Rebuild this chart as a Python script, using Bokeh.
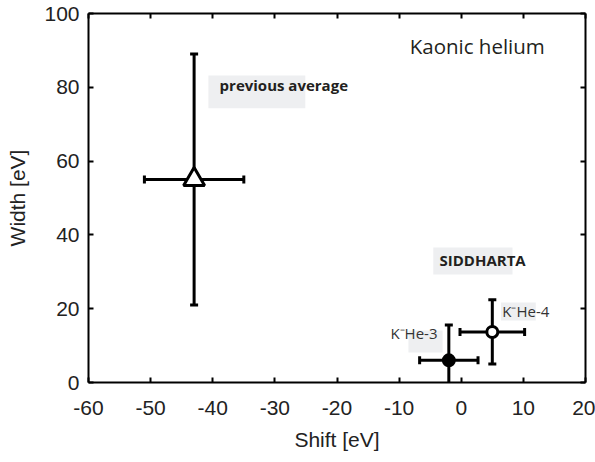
import numpy as np
from bokeh.plotting import figure
from bokeh.models import (ColumnDataSource, LinearAxis, FixedTicker, BoxAnnotation,
                          Label, Range1d)
from bokeh.embed import file_html
from bokeh.resources import INLINE

# ---------------- data ----------------
prev_shift = [-43.0]
prev_shift_err = [8.0]
prev_width = [55.0]
prev_width_err = [34.0]

sid_labels = ["K\u207bHe-3", "K\u207bHe-4"]
sid_shift = [-2.0, 5.0]
sid_shift_err = [4.7, 5.2]
sid_width = [6.0, 13.7]
sid_width_err = [9.6, 8.7]
sid_filled = ["black", "white"]

x_ticks = [-60, -50, -40, -30, -20, -10, 0, 10, 20]
y_ticks = [0, 20, 40, 60, 80, 100]
x_tick_labels = ["-60", "-50", "-40", "-30", "-20", "-10", "0", "10", "20"]
y_tick_labels = ["0", "20", "40", "60", "80", "100"]

x_title = "Shift [eV]"
y_title = "Width [eV]"
title_text = "Kaonic helium"

# ---------------- sources ----------------
all_x = np.array(prev_shift + sid_shift)
all_xe = np.array(prev_shift_err + sid_shift_err)
all_y = np.array(prev_width + sid_width)
all_ye = np.array(prev_width_err + sid_width_err)

err_src = ColumnDataSource(dict(
    x=all_x, y=all_y,
    xl=all_x - all_xe, xr=all_x + all_xe,
    yl=all_y - all_ye, yu=all_y + all_ye,
))
prev_src = ColumnDataSource(dict(x=prev_shift, y=prev_width))
sid_src = ColumnDataSource(dict(x=sid_shift, y=sid_width, fill=sid_filled))

# ---------------- figure ----------------
p = figure(width=595, height=462,
           x_range=Range1d(-60, 20), y_range=Range1d(0, 100),
           output_backend="svg", toolbar_location=None,
           min_border_left=88, min_border_right=10,
           min_border_top=13, min_border_bottom=80)
p.outline_line_color = None
p.grid.visible = False
p.background_fill_color = "white"
p.border_fill_color = "white"

TXT = "#222222"
for ax in (p.xaxis[0], p.yaxis[0]):
    ax.axis_line_width = 2
    ax.axis_line_color = "black"
    ax.major_tick_line_width = 2
    ax.major_tick_in = 5
    ax.major_tick_out = 0
    ax.minor_tick_in = 0
    ax.minor_tick_out = 0
    ax.major_label_text_font = "Liberation Sans"
    ax.major_label_text_font_size = "21px"
    ax.major_label_text_color = TXT
    ax.axis_label_text_font = "Liberation Sans"
    ax.axis_label_text_font_size = "21px"
    ax.axis_label_text_font_style = "normal"
    ax.axis_label_text_color = TXT

p.xaxis[0].ticker = FixedTicker(ticks=x_ticks, minor_ticks=[])
p.yaxis[0].ticker = FixedTicker(ticks=y_ticks, minor_ticks=[])
p.xaxis[0].major_label_overrides = dict(zip(x_ticks, x_tick_labels))
p.yaxis[0].major_label_overrides = dict(zip(y_ticks, y_tick_labels))
p.xaxis[0].axis_label = x_title
p.yaxis[0].axis_label = y_title
p.xaxis[0].major_label_standoff = 18
p.xaxis[0].axis_label_standoff = 10
p.yaxis[0].major_label_standoff = 9
p.yaxis[0].axis_label_standoff = 12

# mirrored axes (ticks only)
top_ax = LinearAxis(ticker=FixedTicker(ticks=x_ticks, minor_ticks=[]))
right_ax = LinearAxis(ticker=FixedTicker(ticks=y_ticks, minor_ticks=[]))
top_ax.major_label_overrides = {t: "" for t in x_ticks}
right_ax.major_label_overrides = {t: "" for t in y_ticks}
for ax in (top_ax, right_ax):
    ax.axis_line_width = 2
    ax.axis_line_color = "black"
    ax.major_tick_line_width = 2
    ax.major_tick_in = 5
    ax.major_tick_out = 0
    ax.minor_tick_in = 0
    ax.minor_tick_out = 0
    ax.major_label_text_font_size = "1px"
    ax.major_label_standoff = 0
p.add_layout(top_ax, "above")
p.add_layout(right_ax, "right")

# ---------------- label boxes ----------------
boxes = [(-40.7, -25.1, 83.2, 74.3),
         (-4.5, 8.25, 36.6, 29.3),
         (-8.5, -3.0, 14.1, 8.1),
         (6.4, 12.0, 21.7, 16.8)]
for l, r, t, b in boxes:
    p.add_layout(BoxAnnotation(left=l, right=r, top=t, bottom=b,
                               fill_color="#eeeff1", fill_alpha=1.0,
                               line_color=None, level="underlay"))

# ---------------- error bars ----------------
p.segment(x0="xl", x1="xr", y0="y", y1="y", source=err_src,
          line_color="black", line_width=3)
p.segment(x0="x", x1="x", y0="yl", y1="yu", source=err_src,
          line_color="black", line_width=3)
p.scatter(x="xl", y="y", source=err_src, marker="dash", angle=np.pi / 2,
          size=8, line_color="black", line_width=3)
p.scatter(x="xr", y="y", source=err_src, marker="dash", angle=np.pi / 2,
          size=8, line_color="black", line_width=3)
p.scatter(x="x", y="yl", source=err_src, marker="dash",
          size=8, line_color="black", line_width=3)
p.scatter(x="x", y="yu", source=err_src, marker="dash",
          size=8, line_color="black", line_width=3)

# ---------------- markers ----------------
p.scatter(x="x", y="y", source=prev_src, marker="triangle", size=21,
          fill_color="white", line_color="black", line_width=3)
p.scatter(x="x", y="y", source=sid_src, marker="circle", size=11,
          fill_color="fill", line_color="black", line_width=3)

# ---------------- text labels ----------------
TC = "#231f20"
p.add_layout(Label(x=-8.3, y=91.3, text=title_text, text_font="Open Sans",
                   text_font_size="20.5px", text_color=TC,
                   text_align="left", text_baseline="middle"))
p.add_layout(Label(x=-38.9, y=80.5, text="previous average", text_font="Open Sans",
                   text_font_size="15px", text_font_style="bold", text_color=TC,
                   text_align="left", text_baseline="middle"))
p.add_layout(Label(x=-3.5, y=33.1, text="SIDDHARTA", text_font="Open Sans",
                   text_font_size="15px", text_font_style="bold", text_color=TC,
                   text_align="left", text_baseline="middle"))
lab_pos = [(-11.4, 13.3), (6.6, 19.5)]
for txt, (lx, ly) in zip(sid_labels, lab_pos):
    p.add_layout(Label(x=lx, y=ly, text=txt, text_font="Open Sans",
                       text_font_size="15px", text_color="#333333",
                       text_align="left", text_baseline="middle"))

open("out.html", "w").write(file_html(p, INLINE))
